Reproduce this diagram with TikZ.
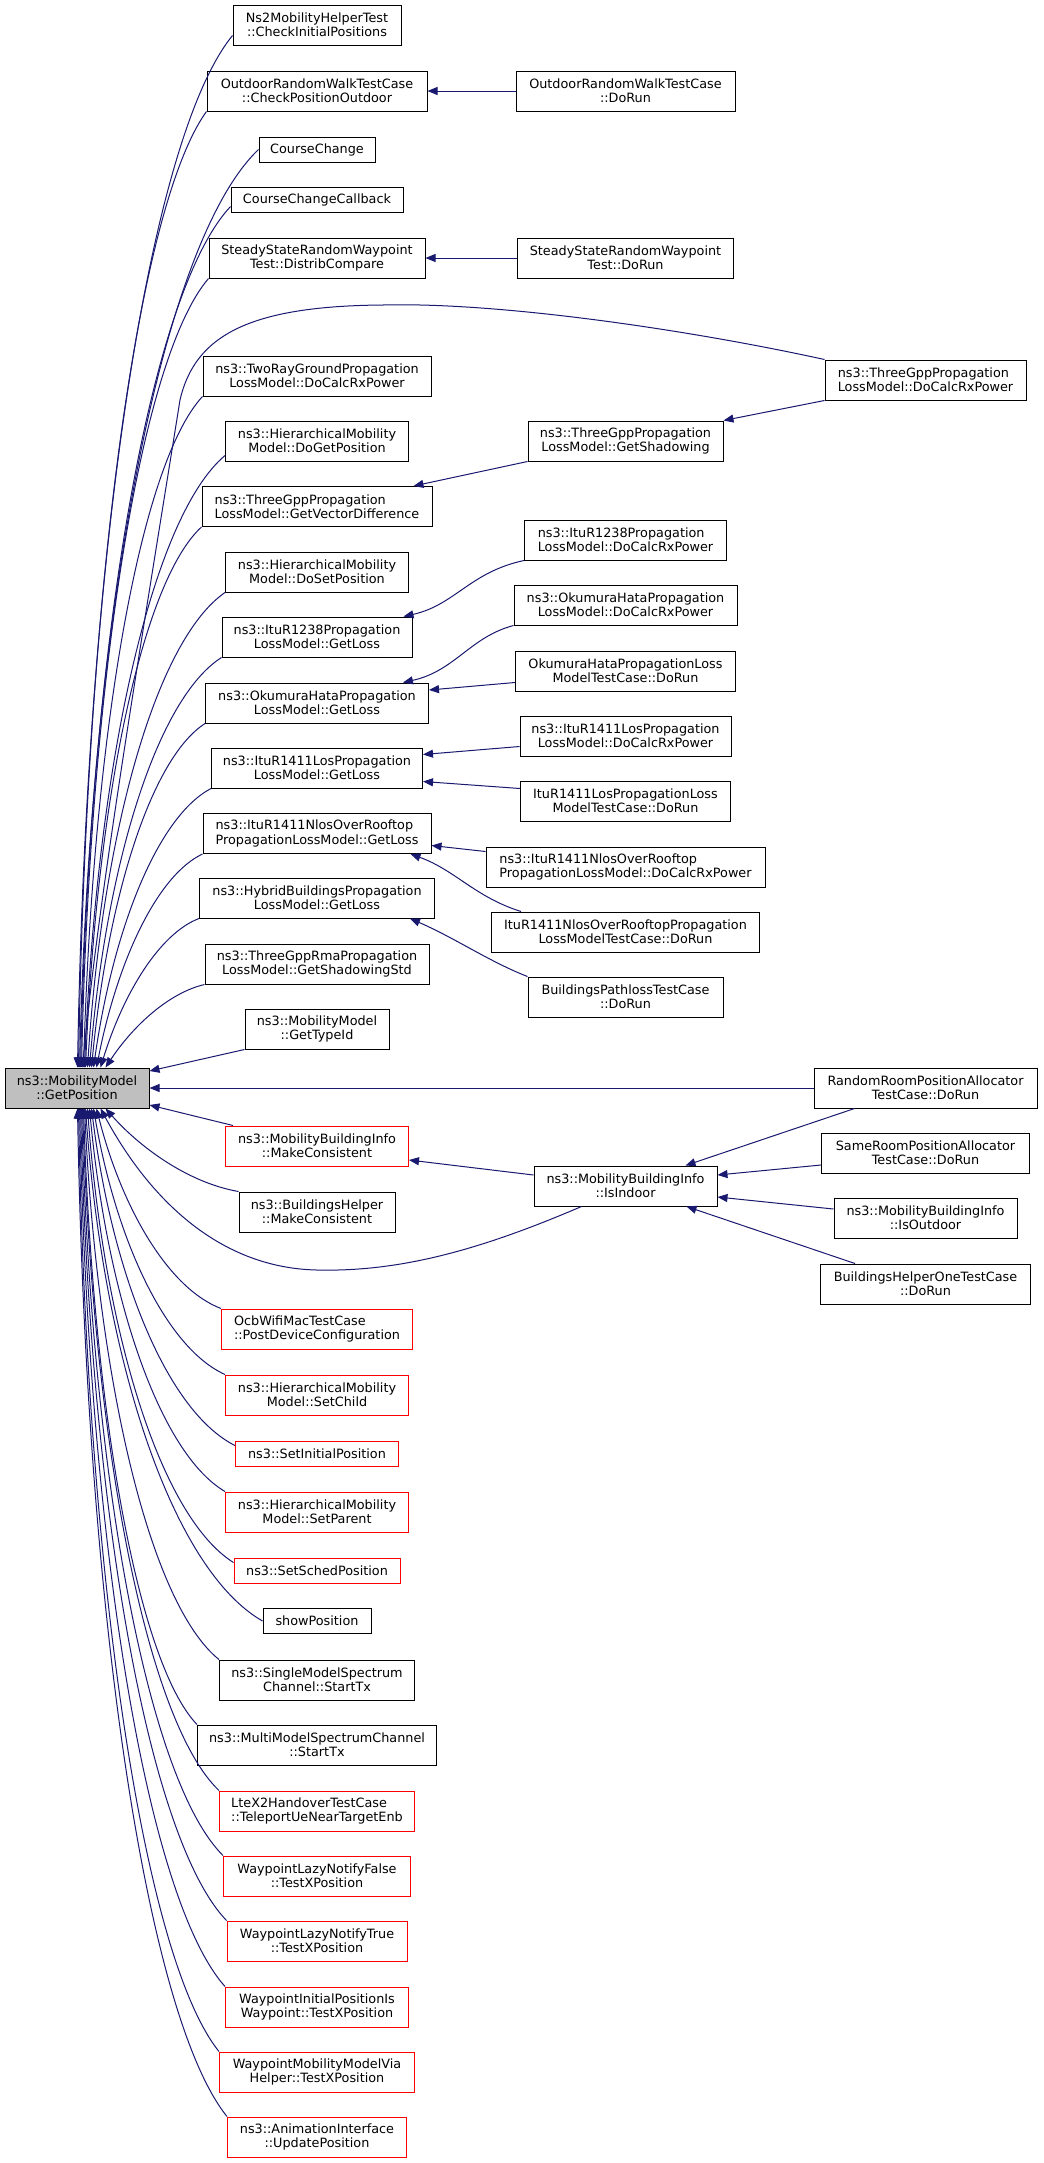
\documentclass[tikz,border=0pt]{standalone}
\usepackage{fontspec}
\setmainfont{DejaVu Sans}
\usetikzlibrary{arrows.meta,calc}

\definecolor{navy}{HTML}{191970}
\definecolor{boxgray}{HTML}{BFBFBF}

\tikzset{
  fn/.style={draw=black, line width=0.75pt, fill=white, inner sep=0pt,
    minimum height=30pt, align=center, font=\fontsize{9.6}{10.8}\selectfont},
  trunc/.style={fn, draw=red},
  oneline/.style={minimum height=18.75pt},
  boxw/.style={minimum width=#1*0.75pt},
  call/.style={draw=navy, line width=0.75pt, -{Triangle[length=7.5pt,width=6pt]}},
  % caller in the left column, bending into the callee
  bend call/.style={to path={let \p1=(\tikztostart), \p2=(\tikztotarget),
    \n1={0.05+0.3*exp(-abs((\y2)-(\y1))/225)},
    \n2={0.3+0.25*(1-exp(-abs((\y2)-(\y1))/225))} in
    .. controls ({\x1-\n2*((\x1)-(\x2))},{\y1+0.1*((\y2)-(\y1))})
    and ({\x2+\n1*((\x1)-(\x2))},{\y1+0.5*((\y2)-(\y1))}) .. (\p2)}},
}

\begin{document}
\begin{tikzpicture}[x=0.75pt, y=-0.75pt]
        \path[use as bounding box, fill=white] (0,0) rectangle (1043,2163);

        % the function itself
        \node[fn, fill=boxgray, boxw=144] (gp) at (77,1088) {ns3::MobilityModel\\::GetPosition};

        % direct callers, above
        \node[fn, boxw=168] (ns2) at (317,25) {Ns2MobilityHelperTest\\::CheckInitialPositions};
        \node[fn, boxw=220] (cpo) at (317,91) {OutdoorRandomWalkTestCase\\::CheckPositionOutdoor};
        \node[fn, oneline, boxw=116] (cc) at (317,149.5) {CourseChange};
        \node[fn, oneline, boxw=172] (ccc) at (317,199.5) {CourseChangeCallback};
        \node[fn, boxw=216] (dc) at (317,258) {SteadyStateRandomWaypoint\\Test::DistribCompare};
        \node[fn, boxw=228] (tworay) at (317,376) {ns3::TwoRayGroundPropagation\\LossModel::DoCalcRxPower};
        \node[fn, boxw=183] (dogp) at (317,441) {ns3::HierarchicalMobility\\Model::DoGetPosition};
        \node[fn, align=left, boxw=230] (gvd) at (317,506.5) {ns3::ThreeGppPropagation\\LossModel::GetVectorDifference};
        \node[fn, boxw=183] (dosp) at (317,572) {ns3::HierarchicalMobility\\Model::DoSetPosition};
        \node[fn, boxw=190] (i38l) at (317,637) {ns3::ItuR1238Propagation\\LossModel::GetLoss};
        \node[fn, boxw=223] (okul) at (317,703) {ns3::OkumuraHataPropagation\\LossModel::GetLoss};
        \node[fn, boxw=211] (losl) at (317,768) {ns3::ItuR1411LosPropagation\\LossModel::GetLoss};
        \node[fn, align=left, boxw=228] (nlosl) at (317,833.5) {ns3::ItuR1411NlosOverRooftop\\PropagationLossModel::GetLoss};
        \node[fn, boxw=235] (hybl) at (317,898) {ns3::HybridBuildingsPropagation\\LossModel::GetLoss};
        \node[fn, boxw=224] (rma) at (317,964) {ns3::ThreeGppRmaPropagation\\LossModel::GetShadowingStd};
        \node[fn, boxw=144] (gtid) at (317,1029) {ns3::MobilityModel\\::GetTypeId};

        % direct callers, below
        \node[trunc, boxw=183] (mcons) at (317,1146) {ns3::MobilityBuildingInfo\\::MakeConsistent};
        \node[fn, boxw=156] (bhmc) at (317,1212) {ns3::BuildingsHelper\\::MakeConsistent};
        \node[trunc, align=left, boxw=191] (ocb) at (317,1329) {OcbWifiMacTestCase\\::PostDeviceConfiguration};
        \node[trunc, boxw=183] (setchild) at (317,1395) {ns3::HierarchicalMobility\\Model::SetChild};
        \node[trunc, oneline, boxw=163] (setinit) at (317,1453.5) {ns3::SetInitialPosition};
        \node[trunc, boxw=183] (setpar) at (317,1512) {ns3::HierarchicalMobility\\Model::SetParent};
        \node[trunc, oneline, boxw=166] (setsched) at (317,1570.5) {ns3::SetSchedPosition};
        \node[fn, oneline, boxw=108] (showpos) at (317,1621) {showPosition};
        \node[fn, boxw=195] (single) at (317,1680) {ns3::SingleModelSpectrum\\Channel::StartTx};
        \node[fn, boxw=239] (multi) at (317,1745) {ns3::MultiModelSpectrumChannel\\::StartTx};
        \node[trunc, align=left, boxw=195] (ltex2) at (317,1811) {LteX2HandoverTestCase\\::TeleportUeNearTargetEnb};
        \node[trunc, boxw=187] (wlnf) at (317,1876) {WaypointLazyNotifyFalse\\::TestXPosition};
        \node[trunc, boxw=180] (wlnt) at (317,1941) {WaypointLazyNotifyTrue\\::TestXPosition};
        \node[trunc, boxw=183] (wipi) at (317,2007) {WaypointInitialPositionIs\\Waypoint::TestXPosition};
        \node[trunc, boxw=195] (wmmv) at (317,2072) {WaypointMobilityModelVia\\Helper::TestXPosition};
        \node[trunc, boxw=179] (anim) at (317,2137) {ns3::AnimationInterface\\::UpdatePosition};

        % second level
        \node[fn, boxw=219] (cpod) at (625.5,91) {OutdoorRandomWalkTestCase\\::DoRun};
        \node[fn, boxw=216] (ssd) at (625.5,258) {SteadyStateRandomWaypoint\\Test::DoRun};
        \node[fn, boxw=195] (gsh) at (625.5,441) {ns3::ThreeGppPropagation\\LossModel::GetShadowing};
        \node[fn, align=left, boxw=202] (i38d) at (625.5,540) {ns3::ItuR1238Propagation\\LossModel::DoCalcRxPower};
        \node[fn, boxw=223] (okud) at (625.5,605) {ns3::OkumuraHataPropagation\\LossModel::DoCalcRxPower};
        \node[fn, boxw=220] (okut) at (625.5,671) {OkumuraHataPropagationLoss\\ModelTestCase::DoRun};
        \node[fn, boxw=211] (losd) at (625.5,736) {ns3::ItuR1411LosPropagation\\LossModel::DoCalcRxPower};
        \node[fn, boxw=210] (lost) at (625.5,801) {ItuR1411LosPropagationLoss\\ModelTestCase::DoRun};
        \node[fn, align=left, boxw=279] (nlosd) at (625.5,867) {ns3::ItuR1411NlosOverRooftop\\PropagationLossModel::DoCalcRxPower};
        \node[fn, boxw=268] (nlost) at (625.5,932) {ItuR1411NlosOverRooftopPropagation\\LossModelTestCase::DoRun};
        \node[fn, boxw=195] (bpl) at (625.5,997) {BuildingsPathlossTestCase\\::DoRun};
        \node[fn, boxw=183] (isin) at (625.5,1186) {ns3::MobilityBuildingInfo\\::IsIndoor};

        % third level
        \node[fn, align=left, boxw=201] (tgd) at (925.5,380) {ns3::ThreeGppPropagation\\LossModel::DoCalcRxPower};
        \node[fn, boxw=223] (rrp) at (925.5,1088) {RandomRoomPositionAllocator\\TestCase::DoRun};
        \node[fn, boxw=208] (srp) at (925.5,1153) {SameRoomPositionAllocator\\TestCase::DoRun};
        \node[fn, boxw=183] (isout) at (925.5,1218) {ns3::MobilityBuildingInfo\\::IsOutdoor};
        \node[fn, boxw=210] (bho) at (925.5,1284) {BuildingsHelperOneTestCase\\::DoRun};

        % calls into GetPosition from above
        \draw[call] ($(ns2.south west)+(0,-10)$) to[bend call] ($(gp.north west)+(73,0)$);
        \draw[call] (cpo.south west) to[bend call] ($(gp.north west)+(74,0)$);
        \draw[call] (cc.west) to[bend call] ($(gp.north west)+(75,0)$);
        \draw[call] ($(ccc.south west)+(0,-6)$) to[bend call] ($(gp.north west)+(76,0)$);
        \draw[call] (dc.south west) to[bend call] ($(gp.north west)+(77,0)$);
        \draw[call] (tworay.south west) to[bend call] ($(gp.north west)+(79,0)$);
        \draw[call] ($(dogp.south west)+(0,-6)$) to[bend call] ($(gp.north west)+(80,0)$);
        \draw[call] (gvd.south west) to[bend call] ($(gp.north west)+(81,0)$);
        \draw[call] (dosp.south west) to[bend call] ($(gp.north west)+(83,0)$);
        \draw[call] (i38l.south west) to[bend call] ($(gp.north west)+(85,0)$);
        \draw[call] (okul.south west) to[bend call] ($(gp.north west)+(87,0)$);
        \draw[call] (losl.south west) to[bend call] ($(gp.north west)+(89,0)$);
        \draw[call] (nlosl.south west) to[bend call] ($(gp.north west)+(92,0)$);
        \draw[call] (hybl.south west) to[bend call] ($(gp.north west)+(96,0)$);
        \draw[call] (rma.south west) to[bend call] ($(gp.north west)+(101,0)$);
        \draw[call] (gtid.south west) -- ($(gp.east)+(0,-17)$);
        \draw[call] (tgd.north west) .. controls (690,330) and (500,302) .. (383,305)
            .. controls (250,306) and (195,335) .. (180,400)
            .. controls (140,650) and (98,900) .. ($(gp.north west)+(78,0)$);
        \draw[call] (rrp.west) -- (gp.east);

        % calls into GetPosition from below
        \draw[call] ($(mcons.north west)+(8,0)$) -- ($(gp.east)+(0,17)$);
        \draw[call] (bhmc.north west) to[bend call] ($(gp.south west)+(101,0)$);
        \draw[call] ($(isin.south west)+(48,0)$) .. controls (480,1250) and (400,1272) .. (317,1270)
            .. controls (220,1268) and (150,1200) .. ($(gp.south west)+(96,0)$);
        \draw[call] (ocb.north west) to[bend call] ($(gp.south west)+(92,0)$);
        \draw[call] (setchild.north west) to[bend call] ($(gp.south west)+(89,0)$);
        \draw[call] ($(setinit.north west)+(0,5)$) to[bend call] ($(gp.south west)+(87,0)$);
        \draw[call] (setpar.north west) to[bend call] ($(gp.south west)+(85,0)$);
        \draw[call] ($(setsched.north west)+(0,5)$) to[bend call] ($(gp.south west)+(83,0)$);
        \draw[call] (showpos.west) to[bend call] ($(gp.south west)+(81,0)$);
        \draw[call] (single.north west) to[bend call] ($(gp.south west)+(80,0)$);
        \draw[call] (multi.north west) to[bend call] ($(gp.south west)+(79,0)$);
        \draw[call] (ltex2.north west) to[bend call] ($(gp.south west)+(78,0)$);
        \draw[call] (wlnf.north west) to[bend call] ($(gp.south west)+(77,0)$);
        \draw[call] (wlnt.north west) to[bend call] ($(gp.south west)+(76,0)$);
        \draw[call] (wipi.north west) to[bend call] ($(gp.south west)+(75,0)$);
        \draw[call] (wmmv.north west) to[bend call] ($(gp.south west)+(74,0)$);
        \draw[call] (anim.north west) to[bend call] ($(gp.south west)+(73,0)$);

        % second level calls
        \draw[call] (cpod.west) -- (cpo.east);
        \draw[call] (ssd.west) -- (dc.east);
        \draw[call] (tgd.south west) -- (gsh.north east);
        \draw[call] (gsh.south west) -- ($(gvd.north east)+(-19,0)$);
        \draw[call] (i38d.south west) .. controls (470,572) and (455,605) .. ($(i38l.north east)+(-9,0)$);
        \draw[call] (okud.south west) .. controls (470,637) and (455,671) .. ($(okul.north east)+(-26,0)$);
        \draw[call] ($(okut.south west)+(0,-9)$) -- ($(okul.east)+(0,-13)$);
        \draw[call] ($(losd.south west)+(0,-10)$) -- ($(losl.north east)+(0,7)$);
        \draw[call] ($(lost.north west)+(0,8)$) -- ($(losl.south east)+(0,-7)$);
        \draw[call] ($(nlosd.north west)+(0,5)$) -- ($(nlosl.east)+(0,12)$);
        \draw[call] ($(nlost.north west)+(30,0)$) .. controls (475,897) and (455,870) .. ($(nlosl.south east)+(-21,0)$);
        \draw[call] (bpl.north west) .. controls (490,962) and (455,938) .. ($(hybl.south east)+(-25,0)$);
        \draw[call] ($(isin.west)+(0,-11)$) -- ($(mcons.east)+(0,14)$);

        % callers of IsIndoor
        \draw[call] ($(rrp.south west)+(41,0)$) -- ($(isin.north east)+(-32,0)$);
        \draw[call] ($(srp.west)+(0,12)$) -- ($(isin.east)+(0,-11)$);
        \draw[call] ($(isout.west)+(0,-9)$) -- ($(isin.east)+(0,11)$);
        \draw[call] ($(bho.north west)+(35,0)$) -- ($(isin.south east)+(-31,0)$);
\end{tikzpicture}
\end{document}
